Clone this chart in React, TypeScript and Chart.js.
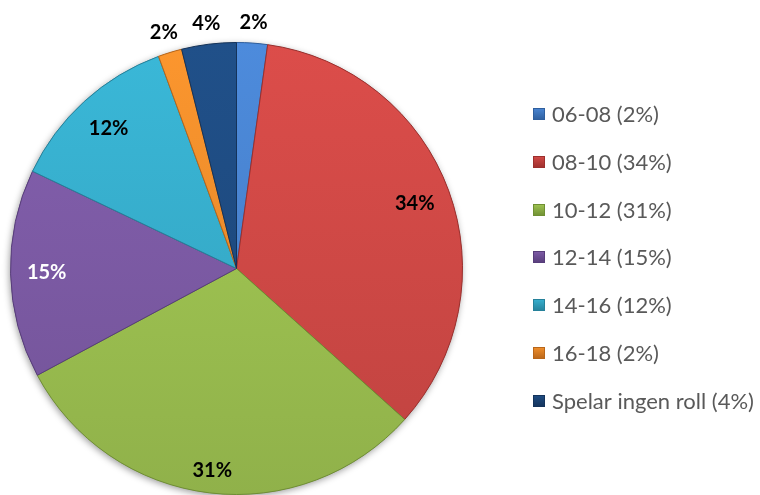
import React, { useEffect, useRef } from "react";
import { Chart, registerables } from "chart.js";

Chart.register(...registerables);

const categories = ["06-08", "08-10", "10-12", "12-14", "14-16", "16-18", "Spelar ingen roll"];
const shares = [2.2, 34.4, 30.5, 14.9, 12.3, 1.7, 3.9];
const legendPercents = ["2%", "34%", "31%", "15%", "12%", "2%", "4%"];
const sliceColors = ["#4a86d4", "#d44a47", "#a0c552", "#7f5ca8", "#38b1d0", "#f2902c", "#1f4d84"];
const edgeColors = ["#2f5f9e", "#9c2f2d", "#6f8f33", "#573d7a", "#26819a", "#b8661a", "#14335a"];
const labelColors = ["#000000", "#000000", "#000000", "#ffffff", "#000000", "#000000", "#000000"];

const FONT = "Lato, 'Open Sans', sans-serif";

function shade(hex: string, f: number): string {
  const n = parseInt(hex.slice(1), 16);
  const r = Math.round(((n >> 16) & 255) * f);
  const g = Math.round(((n >> 8) & 255) * f);
  const b = Math.round((n & 255) * f);
  return `rgb(${Math.min(255, r)},${Math.min(255, g)},${Math.min(255, b)})`;
}

const shadowPlugin = {
  id: "pieShadow",
  beforeDatasetsDraw(chart: any) {
    const meta = chart.getDatasetMeta(0);
    const arc = meta.data[0];
    if (!arc) return;
    const { x, y, outerRadius } = arc.getProps(["x", "y", "outerRadius"], true);
    const ctx = chart.ctx;
    ctx.save();
    ctx.shadowColor = "rgba(0,0,0,0.4)";
    ctx.shadowBlur = 7;
    ctx.shadowOffsetX = -1;
    ctx.shadowOffsetY = 2;
    ctx.beginPath();
    ctx.arc(x, y, outerRadius, 0, Math.PI * 2);
    ctx.fillStyle = "#888";
    ctx.fill();
    ctx.restore();
  },
};

const labelPlugin = {
  id: "pieLabels",
  afterDatasetsDraw(chart: any) {
    const ctx = chart.ctx;
    const meta = chart.getDatasetMeta(0);
    const data = chart.data.datasets[0].data as number[];
    const total = data.reduce((a, b) => a + b, 0);
    ctx.save();
    ctx.font = `bold 20px ${FONT}`;
    ctx.textAlign = "center";
    ctx.textBaseline = "middle";
    meta.data.forEach((el: any, i: number) => {
      const { x, y, startAngle, endAngle, outerRadius } = el.getProps(
        ["x", "y", "startAngle", "endAngle", "outerRadius"],
        true
      );
      const mid = (startAngle + endAngle) / 2;
      const pct = (data[i] / total) * 100;
      const r = pct >= 5 ? outerRadius * (pct > 25 && Math.sin(mid) > 0.9 ? 0.9 : 0.84) : outerRadius + 21;
      const lx = x + Math.cos(mid) * r;
      const ly = y + Math.sin(mid) * r;
      ctx.fillStyle = pct >= 5 ? labelColors[i] : "#000000";
      ctx.fillText(`${Math.round(pct)}%`, lx, ly);
    });
    ctx.restore();
  },
};

const legendPlugin = {
  id: "sideLegend",
  afterDraw(chart: any) {
    const ctx = chart.ctx;
    const labels = chart.data.labels as string[];
    const startX = 533;
    const startY = 114;
    const step = 47.8;
    ctx.save();
    ctx.font = `22px ${FONT}`;
    ctx.textAlign = "left";
    ctx.textBaseline = "middle";
    labels.forEach((lab, i) => {
      const cy = startY + i * step;
      const bx = startX;
      const by = Math.round(cy - 6);
      const g = ctx.createLinearGradient(0, by, 0, by + 12);
      g.addColorStop(0, sliceColors[i]);
      g.addColorStop(1, edgeColors[i]);
      ctx.fillStyle = g;
      ctx.fillRect(bx, by, 12, 12);
      ctx.strokeStyle = edgeColors[i];
      ctx.lineWidth = 1;
      ctx.strokeRect(bx + 0.5, by + 0.5, 11, 11);
      ctx.fillStyle = "#595959";
      ctx.fillText(`${lab} (${legendPercents[i]})`, bx + 19, cy + 1);
    });
    ctx.restore();
  },
};

export default function App() {
  const canvasRef = useRef<HTMLCanvasElement | null>(null);

  useEffect(() => {
    if (!canvasRef.current) return;
    const chart = new Chart(canvasRef.current, {
      type: "pie",
      data: {
        labels: categories,
        datasets: [
          {
            data: shares,
            backgroundColor: (c: any) => {
              const base = sliceColors[c.dataIndex];
              const area = c.chart.chartArea;
              if (!area) return base;
              const g = c.chart.ctx.createLinearGradient(0, area.top, 0, area.bottom);
              g.addColorStop(0, shade(base, 1.04));
              g.addColorStop(1, shade(base, 0.9));
              return g;
            },
            borderColor: edgeColors,
            borderWidth: 1,
          },
        ],
      },
      options: {
        responsive: false,
        animation: false,
        layout: { padding: { left: 10, top: 42, right: 297, bottom: 0 } },
        plugins: {
          legend: { display: false },
          tooltip: { enabled: false },
        },
      },
      plugins: [shadowPlugin, labelPlugin, legendPlugin],
    });
    return () => chart.destroy();
  }, []);

  return (
    <div style={{ position: "fixed", left: 0, top: 0, width: 760, height: 495, background: "#ffffff" }}>
      <canvas ref={canvasRef} width={760} height={495} />
    </div>
  );
}
